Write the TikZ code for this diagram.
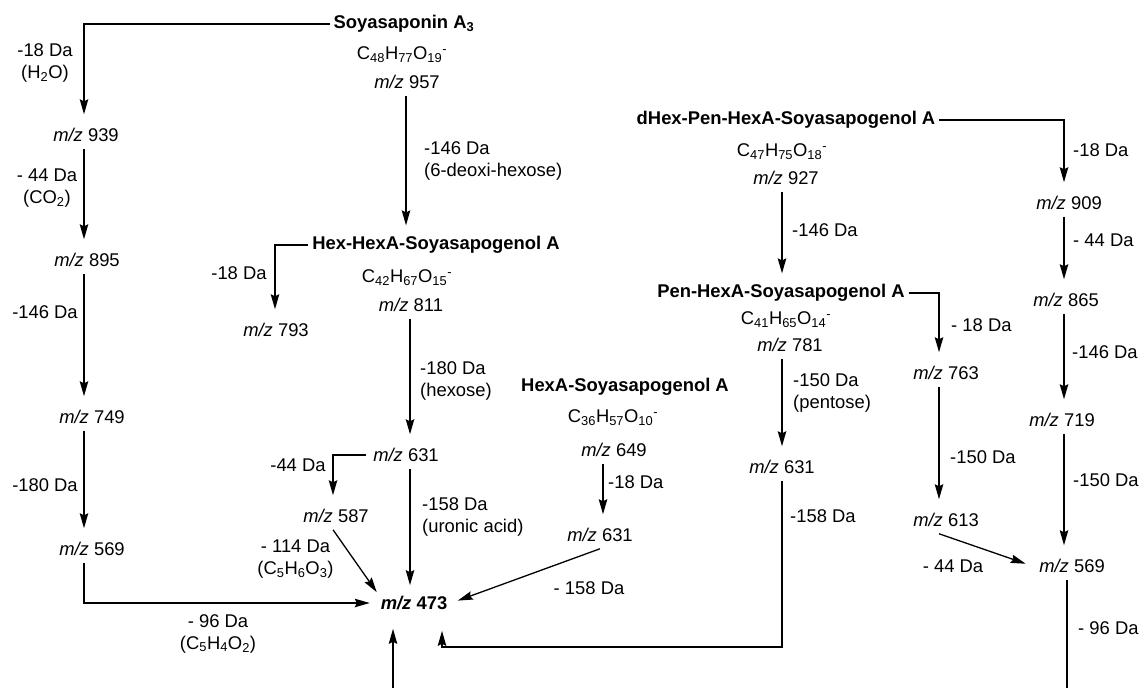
\documentclass[tikz,border=0pt]{standalone}
\usepackage{fontspec}
\setmainfont{Liberation Sans}
\usetikzlibrary{arrows.meta}
\newcommand\MZ{\textit{m/z}}
\begin{document}
\begin{tikzpicture}[x=1pt,y=-1pt,
  every node/.style={font=\fontsize{18.4}{22}\selectfont, inner sep=0pt},
  mz/.style={outer sep=7pt},
  nm/.style={font=\fontsize{18.4}{22}\selectfont\bfseries, outer sep=4pt},
  lb/.style={align=center},
  lbw/.style={align=left, anchor=west},
  arr/.style={-{Stealth[length=15pt,width=8.5pt,inset=2pt]}, line width=1.3pt, shorten >=7pt},
  ln/.style={line width=1.3pt}]
\useasboundingbox (0,0) rectangle (1142,688);
% columns
\coordinate (cA) at (84,0);
\coordinate (cB) at (406,0);
\coordinate (cC) at (275,0);
\coordinate (cD) at (410,0);
\coordinate (cE) at (333,0);
\coordinate (cF) at (603,0);
\coordinate (cG) at (1064,0);
\coordinate (cH) at (782,0);
\coordinate (cI) at (939,0);
\coordinate (cJ) at (442,0);
\coordinate (k1) at (782,647);
\coordinate (bot) at (393,688);
\coordinate (bot2) at (1067,688);
% Soyasaponin A3
\node[nm] (sa3) at (404,24) {Soyasaponin A\textsubscript{3}};
\node (f957) at (402,55) {C\textsubscript{48}H\textsubscript{77}O\textsubscript{19}\textsuperscript{-}};
\node[mz] (n957) at (407,82) {\MZ{} 957};
% left column
\node[lb] (l18a) at (45,62.5) {-18 Da\\(H\textsubscript{2}O)};
\node[mz] (n939) at (86,135) {\MZ{} 939};
\node[lb] (l44a) at (47,188) {- 44 Da\\(CO\textsubscript{2})};
\node[mz] (n895) at (87,260) {\MZ{} 895};
\node (l146a) at (45,312) {-146 Da};
\node[mz] (n749) at (92,417) {\MZ{} 749};
\node (l180a) at (45,485) {-180 Da};
\node[mz] (n569a) at (92,549) {\MZ{} 569};
\node[lb] (l96a) at (218,633.5) {- 96 Da\\(C\textsubscript{5}H\textsubscript{4}O\textsubscript{2})};
% second column
\node[lbw] (l146b) at (424,161) {-146 Da\\(6-deoxi-hexose)};
\node[nm] (hh) at (436,245) {Hex-HexA-Soyasapogenol A};
\node (f811) at (407,278) {C\textsubscript{42}H\textsubscript{67}O\textsubscript{15}\textsuperscript{-}};
\node[mz] (n811) at (411,305) {\MZ{} 811};
\node (l18b) at (239,273) {-18 Da};
\node[mz] (n793) at (276,330) {\MZ{} 793};
\node[lbw] (l180b) at (420,380.5) {-180 Da\\(hexose)};
\node[mz] (n631a) at (406,455) {\MZ{} 631};
\node (l44b) at (298,465) {-44 Da};
\node[mz] (n587) at (336,516) {\MZ{} 587};
\node[lb] (l114) at (295.5,559) {- 114 Da\\(C\textsubscript{5}H\textsubscript{6}O\textsubscript{3})};
\node[lbw] (l158a) at (422,516.5) {-158 Da\\(uronic acid)};
\node[outer sep=4pt] (n473) at (414,603) {\textbf{\textit{m/z} 473}};
% HexA-Soyasapogenol A
\node[nm] (h) at (625,387) {HexA-Soyasapogenol A};
\node (f649) at (613,418) {C\textsubscript{36}H\textsubscript{57}O\textsubscript{10}\textsuperscript{-}};
\node[mz] (n649) at (614,450) {\MZ{} 649};
\node[lbw] (l18c) at (608,482) {-18 Da};
\node[mz] (n631b) at (600,535) {\MZ{} 631};
\node (l158b) at (589,588) {- 158 Da};
% dHex-Pen-HexA
\node[nm] (dh) at (786,120) {dHex-Pen-HexA-Soyasapogenol A};
\node (f927) at (782,152) {C\textsubscript{47}H\textsubscript{75}O\textsubscript{18}\textsuperscript{-}};
\node[mz] (n927) at (786,178) {\MZ{} 927};
\node[lbw] (l146c) at (792,230) {-146 Da};
\node[nm] (ph) at (781,293) {Pen-HexA-Soyasapogenol A};
\node (f781) at (786,320) {C\textsubscript{41}H\textsubscript{65}O\textsubscript{14}\textsuperscript{-}};
\node[mz] (n781) at (790,345) {\MZ{} 781};
\node[lbw] (l150a) at (793,393) {-150 Da\\(pentose)};
\node[mz] (n631c) at (782,467) {\MZ{} 631};
\node[lbw] (l158c) at (790,516) {-158 Da};
% right columns
\node[lbw] (l18d) at (1073,150) {-18 Da};
\node[mz] (n909) at (1069,203) {\MZ{} 909};
\node[lbw] (l44c) at (1073,240) {- 44 Da};
\node[mz] (n865) at (1066,300) {\MZ{} 865};
\node[lbw] (l146d) at (1072,352) {-146 Da};
\node[mz] (n719) at (1062,420) {\MZ{} 719};
\node[lbw] (l150b) at (1073,480) {-150 Da};
\node[mz] (n569b) at (1072,566) {\MZ{} 569};
\node[lbw] (l96b) at (1078,628) {- 96 Da};
\node[lbw] (l18e) at (951,325) {- 18 Da};
\node[mz] (n763) at (946,373) {\MZ{} 763};
\node[lbw] (l150c) at (950,457) {-150 Da};
\node[mz] (n613) at (946,520) {\MZ{} 613};
\node (l44d) at (953,566) {- 44 Da};
% connectors
\draw[arr] (sa3.west) -| (n939.north -| cA);
\draw[arr] (n939.south -| cA) -- (n895.north -| cA);
\draw[arr] (n895.south -| cA) -- (n749.north -| cA);
\draw[arr] (n749.south -| cA) -- (n569a.north -| cA);
\draw[arr] (n569a.south -| cA) |- (n473.west);
\draw[arr] (n957.south -| cB) -- (hh.north -| cB);
\draw[arr] (hh.west) -| (n793.north -| cC);
\draw[arr] (n811.south -| cD) -- (n631a.north -| cD);
\draw[arr] (n631a.west) -| (n587.north -| cE);
\draw[arr] (n631a.south -| cD) -- (n473.north -| cD);
\draw[arr,shorten >=0pt] (n587.south -| cE) -- (n473.north west);
\draw[arr] (n649.south -| cF) -- (n631b.north -| cF);
\draw[arr] (n631b.south) -- (n473.east);
\draw[arr] (dh.east) -| (n909.north -| cG);
\draw[arr] (n927.south -| cH) -- (ph.north -| cH);
\draw[arr] (ph.east) -| (n763.north -| cI);
\draw[arr] (n781.south -| cH) -- (n631c.north -| cH);
\draw[arr,shorten >=17pt] (n631c.south -| cH) -- (k1) -| (n473.south -| cJ);
\draw[arr,shorten >=15pt] (bot) -- (n473.south -| bot);
\draw[arr] (n909.south -| cG) -- (n865.north -| cG);
\draw[arr] (n865.south -| cG) -- (n719.north -| cG);
\draw[arr] (n719.south -| cG) -- (n569b.north -| cG);
\draw[ln] (n569b.south -| bot2) -- (bot2);
\draw[arr] (n763.south -| cI) -- (n613.north -| cI);
\draw[arr] (n613.south -| cI) -- (n569b.west);
\end{tikzpicture}
\end{document}
